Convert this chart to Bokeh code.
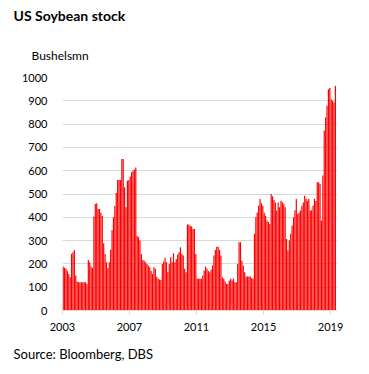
from bokeh.plotting import figure
from bokeh.models import Title, FixedTicker, Range1d, ColumnDataSource
from bokeh.embed import file_html
from bokeh.resources import INLINE

# Monthly US soybean stocks (bushels mn), Jan 2003 - Apr 2019
stocks_2003 = [189, 183, 179, 171, 157, 143, 243, 250, 260, 150, 125, 121]
stocks_2004 = [121, 121, 121, 121, 121, 114, 217, 207, 189, 182, 403, 457]
stocks_2005 = [460, 436, 436, 420, 407, 289, 243, 207, 181, 207, 261, 346]
stocks_2006 = [400, 450, 504, 560, 560, 560, 650, 650, 529, 443, 557, 560]
stocks_2007 = [575, 593, 600, 605, 614, 320, 314, 300, 243, 217, 214, 207]
stocks_2008 = [200, 193, 186, 170, 157, 186, 179, 145, 136, 133, 131, 200]
stocks_2009 = [210, 226, 207, 164, 200, 229, 207, 246, 207, 221, 240, 250]
stocks_2010 = [271, 243, 236, 179, 164, 369, 369, 364, 360, 350, 350, 243]
stocks_2011 = [136, 136, 136, 136, 150, 171, 189, 179, 170, 164, 175, 193]
stocks_2012 = [236, 260, 274, 274, 260, 236, 143, 136, 125, 114, 114, 129]
stocks_2013 = [136, 129, 136, 121, 121, 200, 293, 293, 214, 193, 164, 146]
stocks_2014 = [146, 146, 146, 140, 136, 329, 400, 421, 450, 479, 460, 450]
stocks_2015 = [420, 407, 386, 380, 371, 500, 490, 474, 464, 429, 464, 443]
stocks_2016 = [471, 465, 457, 443, 307, 257, 300, 329, 364, 400, 430, 479]
stocks_2017 = [414, 420, 429, 450, 464, 493, 480, 471, 479, 429, 430, 450]
stocks_2018 = [479, 470, 550, 550, 543, 386, 579, 771, 829, 879, 950, 955]
stocks_2019 = [907, 900, 893, 964]

stocks = (stocks_2003 + stocks_2004 + stocks_2005 + stocks_2006 + stocks_2007 +
          stocks_2008 + stocks_2009 + stocks_2010 + stocks_2011 + stocks_2012 +
          stocks_2013 + stocks_2014 + stocks_2015 + stocks_2016 + stocks_2017 +
          stocks_2018 + stocks_2019)
start_year = 2003
tick_years = [2003, 2007, 2011, 2015, 2019]
y_ticks = [0, 100, 200, 300, 400, 500, 600, 700, 800, 900, 1000]

month_pos = [i + 0.5 for i in range(len(stocks))]
src = ColumnDataSource(dict(x=month_pos, top=stocks))

FONT = "Lato"

p = figure(width=365, height=374, output_backend="svg", toolbar_location=None,
           x_range=Range1d(0, len(stocks) + 1), y_range=Range1d(0, 1000),
           min_border_left=62, min_border_right=28, min_border_top=77,
           min_border_bottom=64)
p.title = None
p.outline_line_color = None
p.background_fill_color = "white"
p.border_fill_color = "white"

p.vbar(x="x", top="top", width=0.85, bottom=0, source=src,
       fill_color="#FF0000", line_color=None)

tick_pos = [(y - start_year) * 12 for y in tick_years]
p.xaxis.ticker = FixedTicker(ticks=tick_pos)
p.xaxis.major_label_overrides = {t: str(y) for t, y in zip(tick_pos, tick_years)}
p.xaxis.axis_line_color = "#D9D9D9"
p.xaxis.major_tick_line_color = "#D9D9D9"
p.xaxis.major_tick_in = 0
p.xaxis.major_tick_out = 4
p.xaxis.minor_tick_line_color = None
p.xaxis.major_label_standoff = 8
p.xaxis.major_label_text_font = FONT
p.xaxis.major_label_text_font_size = "11px"
p.xaxis.major_label_text_color = "#000000"

p.yaxis.ticker = FixedTicker(ticks=y_ticks)
p.yaxis.axis_line_color = None
p.yaxis.major_tick_line_color = None
p.yaxis.minor_tick_line_color = None
p.yaxis.major_label_standoff = 9
p.yaxis.major_label_text_font = FONT
p.yaxis.major_label_text_font_size = "11px"
p.yaxis.major_label_text_color = "#000000"

p.xgrid.grid_line_color = None
p.ygrid.ticker = FixedTicker(ticks=y_ticks)
p.ygrid.grid_line_color = "#D9D9D9"
p.ygrid.grid_line_width = 1

# unit line (inner), then chart title (outer)
p.add_layout(Title(text="Bushelsmn", align="left", offset=-31, standoff=29,
                   vertical_align="bottom",
                   text_font=FONT, text_font_size="12px",
                   text_font_style="normal", text_color="#000000"), "above")
p.add_layout(Title(text="US Soybean stock", align="left", offset=-49, standoff=12,
                   vertical_align="top",
                   text_font=FONT, text_font_size="14px",
                   text_font_style="bold", text_color="#000000"), "above")
p.add_layout(Title(text="Source: Bloomberg, DBS", align="left", offset=-49, standoff=20,
                   text_font=FONT, text_font_size="13px",
                   text_font_style="normal", text_color="#000000"), "below")

open("out.html", "w").write(file_html(p, INLINE))
